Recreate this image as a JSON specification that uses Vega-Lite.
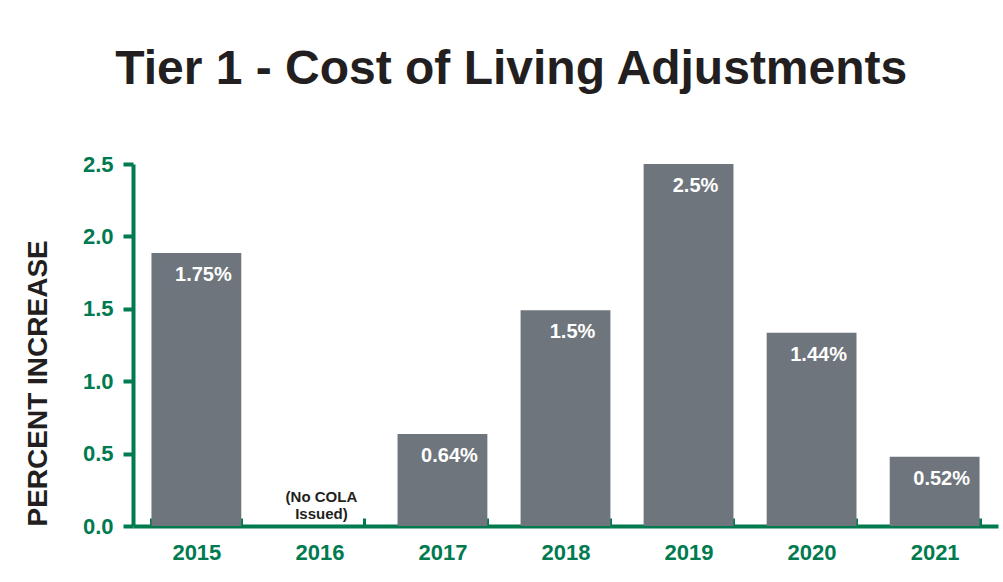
{
  "$schema": "https://vega.github.io/schema/vega-lite/v6.json",
  "autosize": "none",
  "width": 865,
  "height": 362,
  "padding": {"left": 133, "top": 164, "right": 5, "bottom": 56},
  "background": "white",
  "title": {
    "text": "Tier 1 - Cost of Living Adjustments",
    "fontSize": 48,
    "font": "Liberation Sans",
    "fontWeight": "bold",
    "color": "#231f20",
    "anchor": "middle",
    "frame": "bounds",
    "offset": 59
  },
  "data": {
    "values": [
      {"year": "2015", "value": 1.885, "label": "1.75%"},
      {"year": "2016", "value": 0, "label": ""},
      {"year": "2017", "value": 0.635, "label": "0.64%"},
      {"year": "2018", "value": 1.49, "label": "1.5%"},
      {"year": "2019", "value": 2.5, "label": "2.5%"},
      {"year": "2020", "value": 1.335, "label": "1.44%"},
      {"year": "2021", "value": 0.478, "label": "0.52%"}
    ]
  },
  "encoding": {
    "x": {
      "field": "year",
      "type": "ordinal",
      "scale": {"paddingInner": 0.27, "paddingOuter": 0.15},
      "axis": {
        "title": null,
        "labelAngle": 0,
        "domainColor": "#007a4f",
        "domainWidth": 4,
        "tickColor": "#007a4f",
        "tickWidth": 3,
        "tickSize": -8,
        "tickBand": "extent",
        "labelColor": "#007a4f",
        "labelFont": "Liberation Sans",
        "labelFontWeight": "bold",
        "labelFontSize": 22,
        "labelPadding": 24
      }
    },
    "y": {
      "field": "value",
      "type": "quantitative",
      "scale": {"domain": [0, 2.5], "nice": false},
      "axis": {
        "title": "PERCENT INCREASE",
        "titleFont": "Liberation Sans",
        "titleFontWeight": "bold",
        "titleFontSize": 28,
        "titleColor": "#231f20",
        "titlePadding": 30,
        "titleAnchor": "start",
        "values": [0, 0.5, 1, 1.5, 2, 2.5],
        "format": ".1f",
        "grid": false,
        "domainColor": "#007a4f",
        "domainWidth": 4,
        "tickColor": "#007a4f",
        "tickWidth": 4,
        "tickSize": 10,
        "labelColor": "#007a4f",
        "labelFont": "Liberation Sans",
        "labelFontWeight": "bold",
        "labelFontSize": 22,
        "labelPadding": 10,
        "encoding": {"ticks": {"update": {"x": {"value": 10}}}}
      }
    }
  },
  "layer": [
    {
      "mark": {"type": "bar", "color": "#6e757c"}
    },
    {
      "transform": [{"filter": "datum.label != ''"}],
      "mark": {
        "type": "text",
        "baseline": "top",
        "dy": 12,
        "dx": 7,
        "color": "white",
        "font": "Liberation Sans",
        "fontWeight": "bold",
        "fontSize": 20
      },
      "encoding": {
        "text": {"field": "label"}
      }
    },
    {
      "data": {"values": [{"year": "2016", "value": 0, "note": "(No COLA\nIssued)"}]},
      "mark": {
        "type": "text",
        "baseline": "alphabetic",
        "dy": -24,
        "dx": 2,
        "lineBreak": "\n",
        "lineHeight": 17,
        "color": "#231f20",
        "font": "Liberation Sans",
        "fontWeight": "bold",
        "fontSize": 15
      },
      "encoding": {
        "text": {"field": "note"}
      }
    }
  ],
  "config": {"view": {"stroke": null}}
}
